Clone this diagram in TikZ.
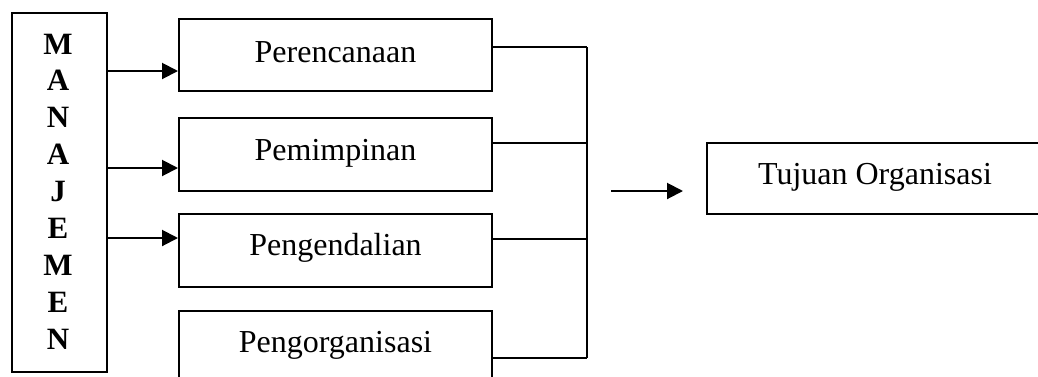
\documentclass[tikz,border=0pt]{standalone}
\usepackage{fontspec}
\setmainfont{Liberation Serif}
\usetikzlibrary{arrows.meta}
\begin{document}
\begin{tikzpicture}[x=1pt,y=-1pt,line width=2pt,
  box/.style={draw,rectangle,inner sep=0pt,minimum width=#1},
  lbl/.style={anchor=base,inner sep=0pt,font=\fontsize{32}{36}\selectfont},
  vlet/.style={anchor=base,inner sep=0pt,font=\fontsize{31}{36}\selectfont\bfseries},
  arr/.style={-{Triangle[length=16pt,width=16pt]}}]
\useasboundingbox (0,0) rectangle (1038,376);
\clip (0,0) rectangle (1038,376);
% left box
\node[box=95pt,minimum height=359pt] (man) at (59.5,192.5) {};
\foreach \l [count=\i from 0] in {M,A,N,A,J,E,M,E,N}
  \node[vlet] (let\i) at (58,54+36.9*\i) {\l};
% middle boxes
\node[box=313pt,minimum height=72pt] (b1) at (335.5,55) {};
\node[box=313pt,minimum height=73pt] (b2) at (335.5,154.5) {};
\node[box=313pt,minimum height=73pt] (b3) at (335.5,250.5) {};
\node[box=313pt,minimum height=73pt] (b4) at (335.5,347.5) {};
\node[lbl] (t1) at (335.5,62) {Perencanaan};
\node[lbl] (t2) at (335.5,160) {Pemimpinan};
\node[lbl] (t3) at (335.5,255) {Pengendalian};
\node[lbl] (t4) at (335.5,352) {Pengorganisasi};
% target box
\node[box=336pt,minimum height=71pt] (tj) at (875,178.5) {};
\node[lbl] (tt) at (875,184) {Tujuan Organisasi};
% arrows from left box
\coordinate (a1) at (0,71);
\coordinate (a2) at (0,168);
\coordinate (a3) at (0,238);
\draw[arr] (man.east |- a1) -- (b1.west |- a1);
\draw[arr] (man.east |- a2) -- (b2.west |- a2);
\draw[arr] (man.east |- a3) -- (b3.west |- a3);
% right joins
\coordinate (j1) at (587,47);
\coordinate (j2) at (587,143);
\coordinate (j3) at (587,239);
\coordinate (j4) at (587,358);
\draw (b1.east |- j1) -- (j1);
\draw (b2.east |- j2) -- (j2);
\draw (b3.east |- j3) -- (j3);
\draw (b4.east |- j4) -- (j4);
\draw (j1) -- (j4);
% arrow to target
\coordinate (s) at (611,191);
\coordinate (e) at (683,191);
\draw[arr] (s) -- (e);
\end{tikzpicture}
\end{document}
